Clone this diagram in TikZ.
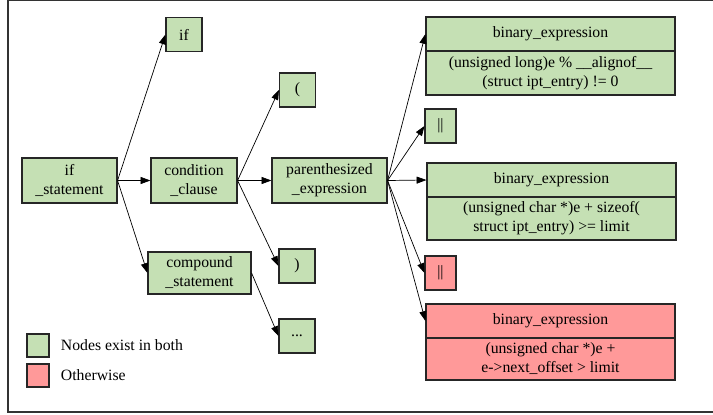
\documentclass[tikz,border=0pt]{standalone}
\usepackage{fontspec}
\setmainfont{Liberation Serif}
\usetikzlibrary{arrows.meta}
\definecolor{nodegreen}{RGB}{197,224,180}
\definecolor{nodepink}{RGB}{255,153,153}
\begin{document}
\begin{tikzpicture}[font=\fontsize{11.2}{13.5}\selectfont,
  box/.style={draw=black!85, line width=0.8pt, inner sep=0pt, align=center},
  same/.style={box, fill=nodegreen},
  diff/.style={box, fill=nodepink},
  small/.style={minimum width=0.9cm, minimum height=0.85cm},
  wide/.style={minimum width=6.225cm},
  edge/.style={-{Triangle[length=7pt,width=5pt]}, line width=0.5pt}]
\useasboundingbox (0,0) rectangle (17.825,10.35);
\draw [line width=0.8pt, draw=black!80] (18.5,10.3375) -| (0.2,0.05) -- (18.5,0.05);

\node [same, minimum width=2.375cm, minimum height=1.125cm] (IS) at (1.7375,5.8375) {if\\\_statement};
\node [same, small] (IF) at (4.6,9.4875) {if};
\node [same, minimum width=2.15cm, minimum height=1.125cm] (CC) at (4.85,5.8375) {condition\\\_clause};
\node [same, minimum width=2.575cm, minimum height=1.05cm] (CS) at (4.9875,3.525) {compound\\\_statement};

\node [same, small] (LP) at (7.4375,8.1) {(};
\node [same, minimum width=2.875cm, minimum height=1.125cm] (PE) at (8.2375,5.8375) {parenthesized\\\_expression};
\node [same, small] (RP) at (7.425,3.7) {)};
\node [same, small] (DOT) at (7.425,1.95) {...};

\node [same, wide, minimum height=1.1cm] (B1b) at (13.7625,8.525) {(unsigned long)e \% \_\_alignof\_\_\\(struct ipt\_entry) != 0};
\node [same, wide, minimum height=0.85cm] (B1) at (13.7625,9.5) {binary\_expression};
\node [same, small, minimum width=0.775cm] (O1) at (11.0125,7.2) {||};
\node [same, wide, minimum height=1.075cm] (B2b) at (13.7875,4.8875) {(unsigned char *)e + sizeof(\\struct ipt\_entry) >= limit};
\node [same, wide, minimum height=0.85cm] (B2) at (13.7875,5.85) {binary\_expression};
\node [diff, small, minimum width=0.775cm] (O2) at (11.0125,3.525) {||};
\node [diff, wide, minimum height=1.05cm] (B3b) at (13.7625,1.375) {(unsigned char *)e +\\e->next\_offset > limit};
\node [diff, wide, minimum height=0.85cm] (B3) at (13.7625,2.325) {binary\_expression};

\node [same, minimum width=0.55cm, minimum height=0.575cm] (KS) at (0.95,1.7125) {};
\node [anchor=west] (KSt) at (1.4,1.7125) {Nodes exist in both};
\node [diff, minimum width=0.55cm, minimum height=0.575cm] (KD) at (0.95,0.9625) {};
\node [anchor=west] (KDt) at (1.4,0.9625) {Otherwise};

\draw [edge] (IS.east) -- (IF.west);
\draw [edge] (IS.east) -- (CC.west);
\draw [edge] (IS.east) -- (CS.west);
\draw [edge] (CC.east) -- (LP.west);
\draw [edge] (CC.east) -- (PE.west);
\draw [edge] (CC.east) -- (RP.west);
\draw [edge] (CS.east) -- (DOT.west);
\draw [edge] (PE.east) -- (B1.west);
\draw [edge] (PE.east) -- (O1.west);
\draw [edge] (PE.east) -- (B2.west);
\draw [edge] (PE.east) -- (O2.west);
\draw [edge] (PE.east) -- (B3.west);
\end{tikzpicture}
\end{document}
